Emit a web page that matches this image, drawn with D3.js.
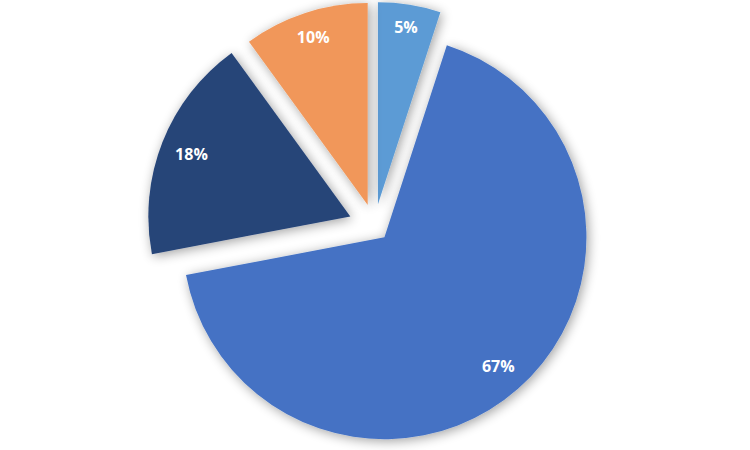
<!DOCTYPE html>
<html>
<head>
<meta charset="utf-8">
<script src="https://cdn.jsdelivr.net/npm/d3@7"></script>
<style>
  body { margin: 0; background: #fff; }
  svg { display: block; }
</style>
</head>
<body>
<div id="chart"></div>
<script>
// slice data, clockwise from 12 o'clock
var categories = ["A", "B", "C", "D"];
var shares = [5, 67, 18, 10];
var labels = ["5%", "67%", "18%", "10%"];
var colors = ["#5B9BD5", "#4472C4", "#264478", "#F1975A"];
// how far each slice is pulled out (px)
var explodeBy = [22, 15, 26, 22];

var width = 750, height = 450;
var cx = 374.5, cy = 226;
var radius = 202;

var svg = d3.select("#chart").append("svg")
  .attr("width", width).attr("height", height);

// soft shadow like the office chart
var defs = svg.append("defs");
var f = defs.append("filter").attr("id", "shadow")
  .attr("x", "-30%").attr("y", "-30%").attr("width", "160%").attr("height", "160%");
f.append("feGaussianBlur").attr("in", "SourceAlpha").attr("stdDeviation", 6).attr("result", "blur");
f.append("feOffset").attr("in", "blur").attr("dx", 2).attr("dy", 2).attr("result", "off");
f.append("feComponentTransfer").attr("in", "off").attr("result", "shad")
  .append("feFuncA").attr("type", "linear").attr("slope", 0.38);
var m = f.append("feMerge");
m.append("feMergeNode").attr("in", "shad");
m.append("feMergeNode").attr("in", "SourceGraphic");

var pie = d3.pie().sort(null).value(d => d.v);
var arcs = pie(shares.map((v, i) => ({v: v, i: i})));

var arc = d3.arc().innerRadius(0).outerRadius(radius);

var g = svg.append("g").attr("transform", "translate(" + cx + "," + cy + ")");

var slices = g.selectAll("g.slice").data(arcs).enter().append("g")
  .attr("class", "slice")
  .attr("transform", function(d) {
    var a = (d.startAngle + d.endAngle) / 2;
    var e = explodeBy[d.data.i];
    return "translate(" + (e * Math.sin(a)) + "," + (-e * Math.cos(a)) + ")";
  });

slices.append("path")
  .attr("d", arc)
  .attr("fill", d => colors[d.data.i])
  .attr("filter", "url(#shadow)");

// labels placed "inside end": box pulled in from the arc edge
slices.append("text")
  .attr("text-anchor", "middle")
  .attr("dominant-baseline", "central")
  .attr("font-family", "'Open Sans', Lato, sans-serif")
  .attr("font-weight", "bold")
  .attr("font-size", 16)
  .attr("fill", "#fff")
  .text(d => labels[d.data.i])
  .each(function(d) {
    var bb = this.getBBox();
    var a = (d.startAngle + d.endAngle) / 2;
    var s = Math.sin(a), c = Math.cos(a);
    var ext = (bb.width / 2) * Math.abs(s) + 8 * Math.abs(c);
    var r = radius - 13 - ext;
    d3.select(this).attr("x", r * s).attr("y", -r * c);
  });
</script>
</body>
</html>
